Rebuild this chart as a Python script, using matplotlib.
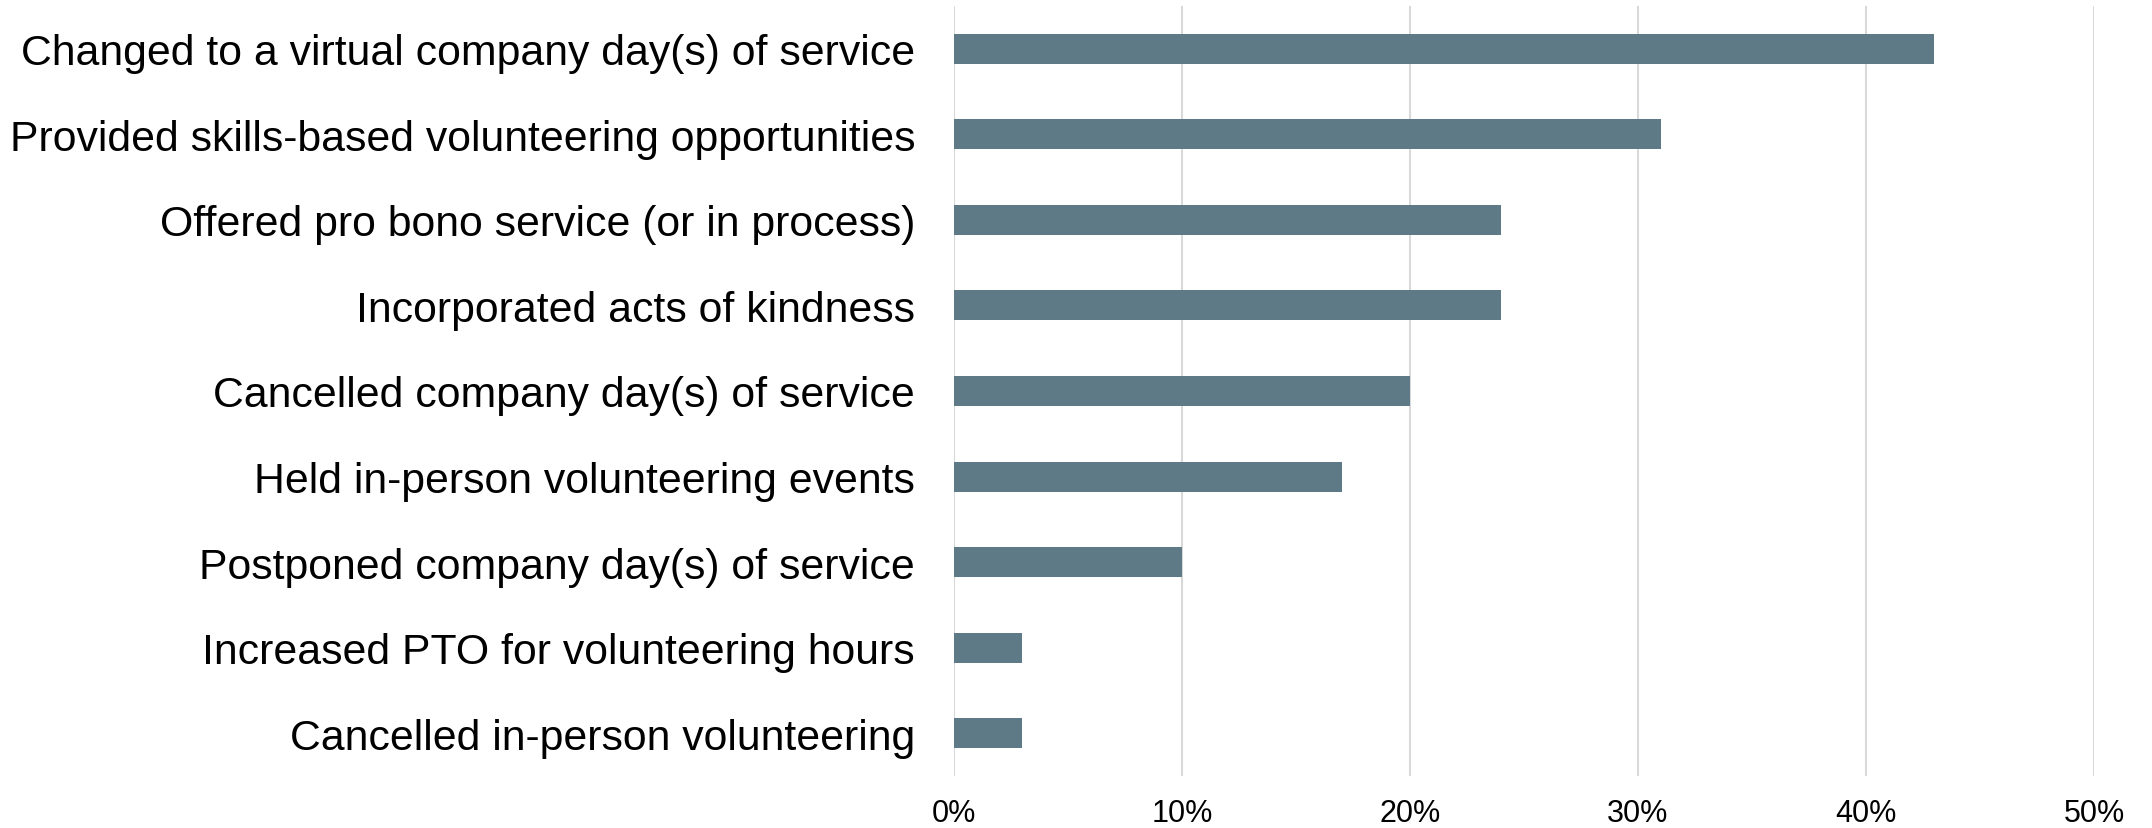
import matplotlib
matplotlib.use("Agg")
import matplotlib.pyplot as plt
from matplotlib.ticker import FuncFormatter

plt.rcParams['font.family'] = ['Liberation Sans', 'DejaVu Sans']

categories = [
    "Changed to a virtual company day(s) of service",
    "Provided skills-based volunteering opportunities",
    "Offered pro bono service (or in process)",
    "Incorporated acts of kindness",
    "Cancelled company day(s) of service",
    "Held in-person volunteering events",
    "Postponed company day(s) of service",
    "Increased PTO for volunteering hours",
    "Cancelled in-person volunteering",
]
shares = [43, 31, 24, 24, 20, 17, 10, 3, 3]
x_ticks = [0, 10, 20, 30, 40, 50]

W, H = 2152, 829
fig = plt.figure(figsize=(W / 100, H / 100), dpi=100)
ax = fig.add_axes([954 / W, 1 - 777 / H, (2094 - 954) / W, (777 - 7) / H])

pos = list(range(len(categories)))
ax.barh(pos, shares, height=0.35, color="#5F7A87", zorder=3)

ax.set_ylim(len(categories) - 0.5, -0.5)
ax.set_xlim(0, 50)
ax.set_xticks(x_ticks)
ax.xaxis.set_major_formatter(FuncFormatter(lambda v, _: f"{v:.0f}%"))
ax.set_yticks(pos)
ax.set_yticklabels(categories)

ax.grid(axis="x", color="#D9D9D9", linewidth=1.5, zorder=0)
for s in ax.spines.values():
    s.set_visible(False)
ax.tick_params(axis="y", length=0, pad=28, labelsize=30.8)
ax.tick_params(axis="x", length=0, pad=16, labelsize=22)

fig.savefig("out.png", dpi=100, facecolor="white")
